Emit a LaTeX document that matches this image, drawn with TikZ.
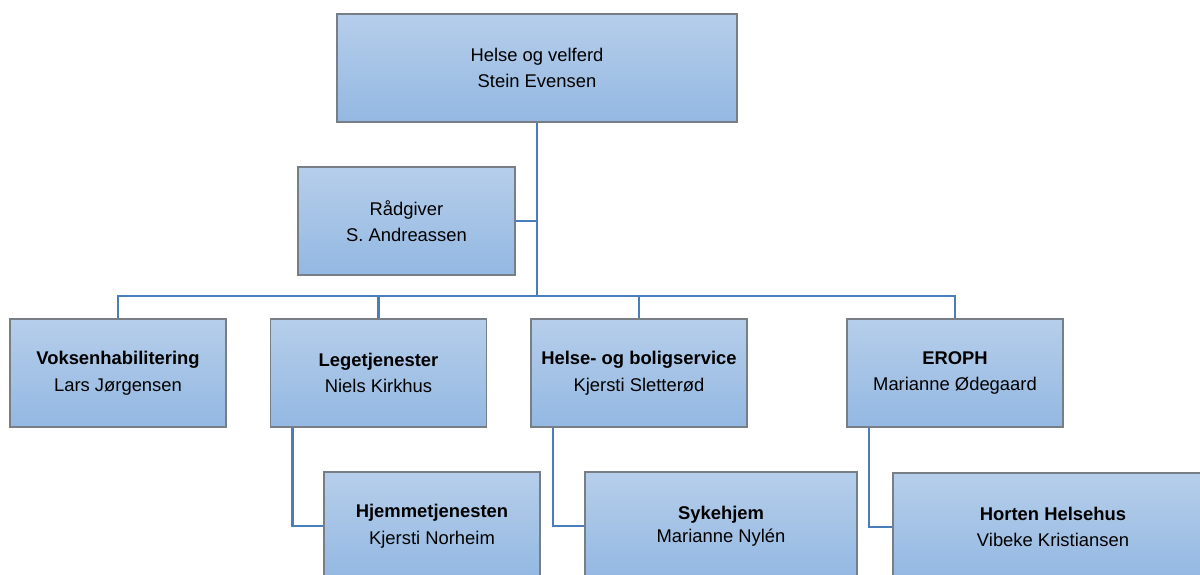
\documentclass[tikz,border=0pt]{standalone}
\usepackage{fontspec}
\setmainfont{Liberation Sans}
\definecolor{boxtop}{RGB}{182,206,234}
\definecolor{boxbot}{RGB}{147,184,226}
\definecolor{boxline}{RGB}{120,126,134}
\definecolor{conn}{RGB}{74,126,187}
\tikzset{
    BOX/.style ={rectangle,minimum width = 216pt, minimum height = 108pt, draw=boxline, line width=1.2pt,
                 top color=boxtop, bottom color=boxbot, align=center, inner sep=0pt,
                 font=\fontsize{18.4}{26.5}\selectfont},
    LN/.style ={draw=conn, line width=2.6pt}}
\begin{document}
\begin{tikzpicture}[x=1pt,y=-1pt]
        \clip (0,0) rectangle (1200,574);
        \fill[white] (0,0) rectangle (1200,574);
        % top level
        \node[BOX, minimum width=400pt] (top) at (537,68) {Helse og velferd\\Stein Evensen};
        \node[BOX, minimum width=217pt] (rad) at (406.5,221) {Rådgiver\\S. Andreassen};
        \coordinate (bus) at (537,296);
        % second level
        \node[BOX] (vok) at (118,373) {\textbf{Voksenhabilitering}\\Lars Jørgensen};
        \node[BOX] (lege) at (378.5,373) {\textbf{Legetjenester}\\Niels Kirkhus};
        \node[BOX] (helse) at (639,373) {\textbf{Helse- og boligservice}\\Kjersti Sletterød};
        \node[BOX] (eroph) at (955,373) {\textbf{EROPH}\\Marianne Ødegaard};
        % third level
        \node[BOX] (hjem) at (432,526) {\textbf{Hjemmetjenesten}\\Kjersti Norheim};
        \node[BOX, minimum width=272pt] (syke) at (721,526) {\textbf{Sykehjem}\\[-4pt]Marianne Nylén};
        \node[BOX, minimum width=320pt] (horten) at (1053,527) {\textbf{Horten Helsehus}\\Vibeke Kristiansen};
        % connectors
        \draw[LN] (top.south) -- (bus);
        \draw[LN] (rad.east) -- (rad.east -| bus);
        \draw[LN] (vok.north) |- (bus) -| (eroph.north);
        \draw[LN] (lege.north) -- (lege.north |- bus);
        \draw[LN] (helse.north) -- (helse.north |- bus);
        \foreach \a/\b in {lege/hjem,helse/syke,eroph/horten}{
        \draw[LN] ([xshift=-86pt]\a.south) |- (\b.west);}
    \end{tikzpicture}
\end{document}
